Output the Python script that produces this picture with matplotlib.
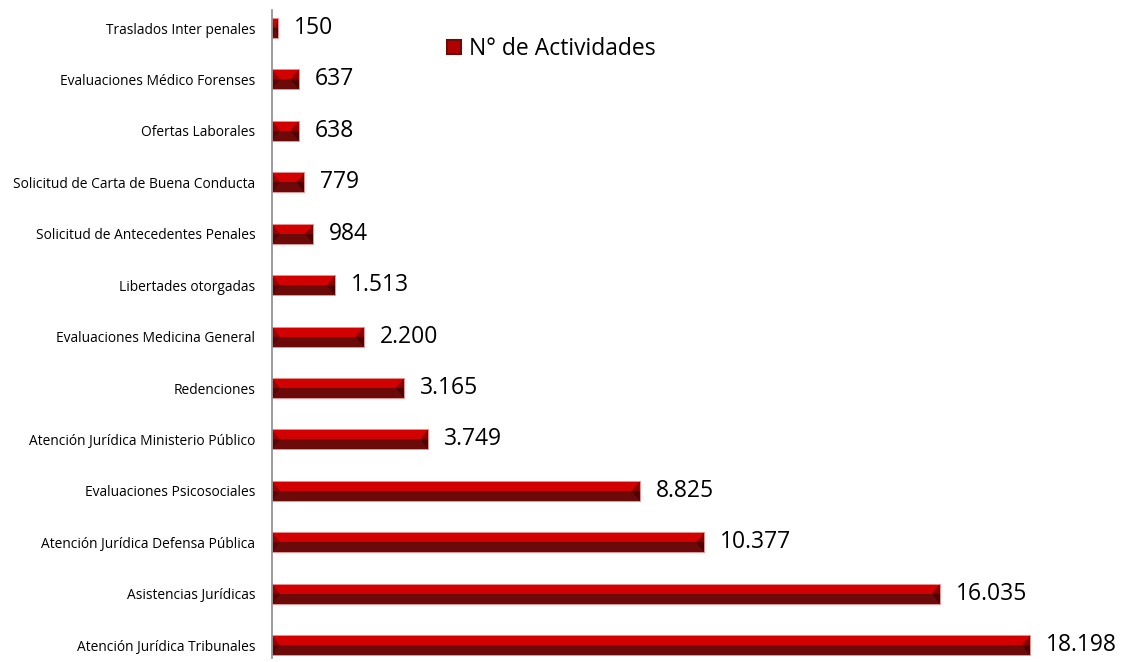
import matplotlib
matplotlib.use("Agg")
import matplotlib.pyplot as plt
from matplotlib.patches import Polygon, Rectangle

categories = [
    "Atención Jurídica Tribunales",
    "Asistencias Jurídicas",
    "Atención Jurídica Defensa Pública",
    "Evaluaciones Psicosociales",
    "Atención Jurídica Ministerio Público",
    "Redenciones",
    "Evaluaciones Medicina General",
    "Libertades otorgadas",
    "Solicitud de Antecedentes Penales",
    "Solicitud de Carta de Buena Conducta",
    "Ofertas Laborales",
    "Evaluaciones Médico Forenses",
    "Traslados Inter penales",
]
values = [18198, 16035, 10377, 8825, 3749, 3165, 2200, 1513, 984, 779, 638, 637, 150]
series_name = "N° de Actividades"

FONT = ["Open Sans", "DejaVu Sans"]
plt.rcParams["font.family"] = FONT

W, H = 1131, 662
fig = plt.figure(figsize=(W / 100, H / 100), dpi=100)
ax_left, ax_right = 272, 1131
ax_top, ax_bot = 10, 658
ax = fig.add_axes([ax_left / W, 1 - ax_bot / H, (ax_right - ax_left) / W, (ax_bot - ax_top) / H])

px_per_unit = (1030 - 272) / 18198
ax.set_xlim(0, (ax_right - ax_left) / px_per_unit)
ax.set_ylim(-0.25, 12.35)

bh = 0.39
c_top = "#D20000"
c_bot = "#6C0909"
c_edge = "#E89090"
bevel = 8 / px_per_unit

for i, v in enumerate(values):
    top = i + bh / 2
    bot = i - bh / 2
    ax.barh(i, v, height=bh / 2, left=0, align="edge", color=c_top, linewidth=0)
    ax.barh(i - bh / 2, v, height=bh / 2, left=0, align="edge", color=c_bot, linewidth=0)
    b = min(bevel, v / 2)
    ax.add_patch(Polygon([(0, top), (b, i), (0, i)], closed=True, color="#9A0000", lw=0))
    ax.add_patch(Polygon([(0, i), (b, i), (0, bot)], closed=True, color="#5A0505", lw=0))
    ax.add_patch(Polygon([(v, top), (v - b, i), (v, i)], closed=True, color="#8A0000", lw=0))
    ax.add_patch(Polygon([(v, i), (v - b, i), (v, bot)], closed=True, color="#4E0303", lw=0))
    ax.add_patch(Rectangle((0, bot), v, bh, fill=False, edgecolor=c_edge, lw=0.7))
    label = f"{v:,}".replace(",", ".")
    ax.text(v + 16 / px_per_unit, i, label, va="center", ha="left", fontsize=16.5, color="black")

ax.set_yticks(range(len(categories)))
ax.set_yticklabels(categories, fontsize=9.9)
ax.tick_params(axis="y", length=0, pad=12)
ax.set_xticks([])
for s in ["top", "right", "bottom"]:
    ax.spines[s].set_visible(False)
ax.spines["left"].set_color("#8C8C8C")
ax.spines["left"].set_linewidth(1.2)

handle = Rectangle((0, 0), 1, 1, facecolor="#B00000", edgecolor="#6C0909", lw=1.5)
leg = fig.legend([handle], [series_name], loc="upper left",
                 bbox_to_anchor=(447 / W, 1 - 37 / H), frameon=False,
                 fontsize=16.5, handlelength=0.6, handleheight=0.6, handletextpad=0.35,
                 borderaxespad=0, borderpad=0)

fig.savefig("out.png", dpi=100)
